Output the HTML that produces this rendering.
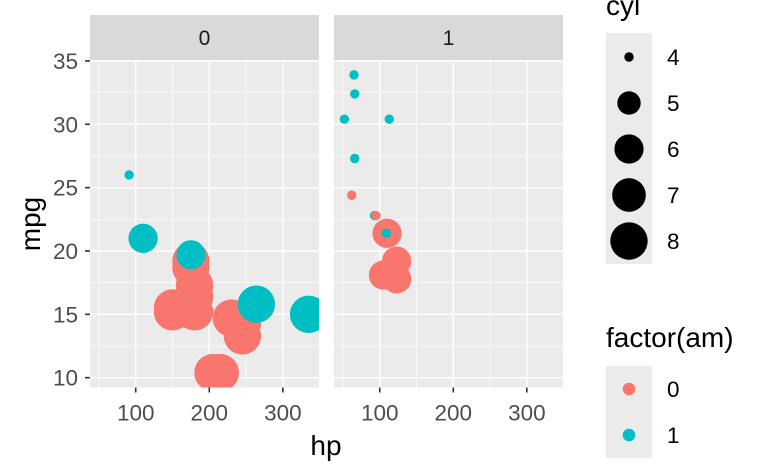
<!DOCTYPE html>
<html><head><meta charset="utf-8"><style>
html,body{margin:0;padding:0;background:#fff;}
svg{display:block;font-family:"Liberation Sans",Arial,sans-serif;}
</style></head><body>
<svg id="s" width="768" height="474" viewBox="0 0 768 474" xmlns="http://www.w3.org/2000/svg"></svg>
<script>
const d=[[110,21.0,6,1,0],[110,21.0,6,1,0],[93,22.8,4,1,1],[110,21.4,6,0,1],[175,18.7,8,0,0],[105,18.1,6,0,1],[245,14.3,8,0,0],[62,24.4,4,0,1],[95,22.8,4,0,1],[123,19.2,6,0,1],[123,17.8,6,0,1],[180,16.4,8,0,0],[180,17.3,8,0,0],[180,15.2,8,0,0],[205,10.4,8,0,0],[215,10.4,8,0,0],[230,14.7,8,0,0],[66,32.4,4,1,1],[52,30.4,4,1,1],[65,33.9,4,1,1],[97,21.5,4,0,1],[150,15.5,8,0,0],[150,15.2,8,0,0],[245,13.3,8,0,0],[175,19.2,8,0,0],[66,27.3,4,1,1],[91,26.0,4,1,0],[113,30.4,4,1,1],[264,15.8,8,1,0],[175,19.7,6,1,0],[335,15.0,8,1,0],[109,21.4,4,1,1]];
const T=60,B=387.5,W=229,lefts=[90,334];
const x0=37.85,x1=349.15,y0=9.225,y1=35.075;
const sx=(l,v)=>l+(v-x0)/(x1-x0)*W, sy=v=>B-(v-y0)/(y1-y0)*(B-T);
const rad=c=>{const s=1+5*Math.sqrt((c-4)/4);return 4.7+(s-1)*2.8;};
const col=['#F8766D','#00BFC4'];
let h='';
h+='<defs>'+lefts.map((l,i)=>`<clipPath id="c${i}"><rect x="${l}" y="${T}" width="${W}" height="${B-T}"/></clipPath>`).join('')+'</defs>';
lefts.forEach((l,i)=>{
 h+=`<rect x="${l}" y="15" width="${W}" height="45" fill="#D9D9D9"/>`;
 h+=`<text x="${l+W/2}" y="45" font-size="21" fill="#1A1A1A" text-anchor="middle">${i}</text>`;
 h+=`<rect x="${l}" y="${T}" width="${W}" height="${B-T}" fill="#EBEBEB"/>`;
 [50,150,250].forEach(v=>h+=`<line x1="${sx(l,v)}" x2="${sx(l,v)}" y1="${T}" y2="${B}" stroke="#fff" stroke-width="0.7"/>`);
 [12.5,17.5,22.5,27.5,32.5].forEach(v=>h+=`<line x1="${l}" x2="${l+W}" y1="${sy(v)}" y2="${sy(v)}" stroke="#fff" stroke-width="0.7"/>`);
 [100,200,300].forEach(v=>{h+=`<line x1="${sx(l,v)}" x2="${sx(l,v)}" y1="${T}" y2="${B}" stroke="#fff" stroke-width="1.4"/>`;
  h+=`<line x1="${sx(l,v)}" x2="${sx(l,v)}" y1="${B}" y2="${B+5}" stroke="#333" stroke-width="1.6"/>`;
  h+=`<text x="${sx(l,v)}" y="${B+33}" font-size="22.5" fill="#4D4D4D" text-anchor="middle">${v}</text>`;});
 [10,15,20,25,30,35].forEach(v=>h+=`<line x1="${l}" x2="${l+W}" y1="${sy(v)}" y2="${sy(v)}" stroke="#fff" stroke-width="1.4"/>`);
 h+=`<g clip-path="url(#c${i})">`;
 d.forEach(p=>{if(p[4]===i)h+=`<circle cx="${sx(l,p[0])}" cy="${sy(p[1])}" r="${rad(p[2])}" fill="${col[p[3]]}"/>`;});
 h+='</g>';
});
[10,15,20,25,30,35].forEach(v=>{h+=`<line x1="85" x2="90" y1="${sy(v)}" y2="${sy(v)}" stroke="#333" stroke-width="1.6"/>`;
 h+=`<text x="78" y="${sy(v)+8}" font-size="22.5" fill="#4D4D4D" text-anchor="end">${v}</text>`;});
h+=`<text x="326" y="455" font-size="28" fill="#000" text-anchor="middle">hp</text>`;
h+=`<text transform="translate(40,224) rotate(-90)" font-size="28" fill="#000" text-anchor="middle">mpg</text>`;
h+=`<text x="606" y="15" font-size="28" fill="#000">cyl</text>`;
h+=`<rect x="606" y="33" width="46" height="231" fill="#EBEBEB"/>`;
[4,5,6,7,8].forEach((c,k)=>{const y=57+46*k;h+=`<circle cx="629" cy="${y}" r="${rad(c)}" fill="#000"/><text x="667" y="${y+8}" font-size="22.5" fill="#000">${c}</text>`;});
h+=`<text x="606" y="347" font-size="28" fill="#000">factor(am)</text>`;
h+=`<rect x="606" y="366" width="46" height="92" fill="#EBEBEB"/>`;
[0,1].forEach(k=>{const y=389+46*k;h+=`<circle cx="629" cy="${y}" r="6.3" fill="${col[k]}"/><text x="667" y="${y+8}" font-size="22.5" fill="#000">${k}</text>`;});
document.getElementById('s').innerHTML=h;
</script>
</body></html>
